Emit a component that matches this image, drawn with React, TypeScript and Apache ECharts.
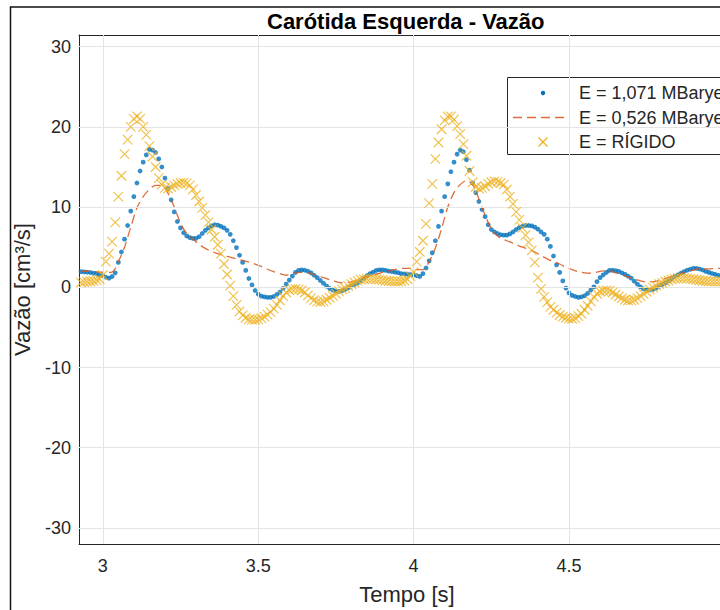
import React, { useEffect, useRef } from "react";
import * as echarts from "echarts";

// sampling grid (s)
const T0 = 2.93;
const DT_POINTS = 0.01;
const DT_LINE = 0.02;

// E = 1,071 MBarye (blue dots), t = 2.93 ... 5.03 step 0.01
const flowE1071 = [
  1.95, 1.92, 1.88, 1.84, 1.77, 1.68, 1.57, 1.45, 1.25, 1.14,
  1.35, 1.8, 3.1, 4.4, 6.0, 7.7, 9.5, 11.3, 13.0, 14.5,
  15.6, 16.5, 17.2, 17.1, 16.8, 16.0, 15.0, 13.6, 12.3, 10.9,
  9.4, 8.2, 7.4, 6.8, 6.4, 6.2, 6.1, 6.1, 6.3, 6.7,
  7.1, 7.4, 7.65, 7.8, 7.75, 7.6, 7.4, 7.1, 6.6, 5.8,
  4.95, 4.0, 3.1, 2.1, 1.1, 0.3, -0.4, -0.85, -1.1, -1.2,
  -1.25, -1.25, -1.15, -0.9, -0.6, -0.15, 0.4, 0.9, 1.4, 1.85,
  2.1, 2.17, 2.12, 2.0, 1.8, 1.5, 1.2, 0.85, 0.5, 0.15,
  -0.15, -0.35, -0.48, -0.5, -0.43, -0.25, -0.05, 0.15, 0.35, 0.55,
  0.8, 1.15, 1.45, 1.7, 1.9, 2.1, 2.17, 2.17, 2.1, 2.02,
  1.97, 1.88, 1.82, 1.7, 1.66, 1.63, 1.58, 1.55, 1.45, 1.35,
  1.7, 2.4, 3.3, 4.3, 5.8, 7.6, 9.5, 11.3, 12.9, 14.4,
  15.6, 16.6, 17.1, 16.9, 15.9, 14.6, 13.0, 11.8, 10.7, 9.7,
  8.8, 7.8, 7.2, 6.9, 6.7, 6.55, 6.5, 6.5, 6.65, 6.9,
  7.2, 7.45, 7.6, 7.7, 7.7, 7.65, 7.5, 7.25, 6.9, 6.6,
  6.0, 5.1, 3.9, 2.8, 1.85, 0.8, -0.1, -0.7, -1.0, -1.15,
  -1.25, -1.2, -1.05, -0.75, -0.35, 0.05, 0.7, 1.2, 1.55, 1.85,
  2.1, 2.12, 2.08, 1.98, 1.8, 1.62, 1.4, 1.14, 0.75, 0.4,
  0.05, -0.2, -0.3, -0.32, -0.25, -0.1, 0.12, 0.35, 0.55, 0.8,
  1.05, 1.35, 1.55, 1.75, 1.95, 2.12, 2.25, 2.35, 2.35, 2.28,
  2.15, 1.98, 1.85, 1.72, 1.62, 1.5, 1.38, 1.3, 1.25, 1.2,
  1.15,
];

// E = 0,526 MBarye (dashed line), t = 2.93 ... 5.03 step 0.02
const flowE0526 = [
  2.0, 2.0, 1.95, 1.9, 1.85, 1.9, 3.2, 5.0, 7.5, 9.9,
  11.3, 12.2, 12.7, 12.7, 11.7, 10.0, 8.0, 6.7, 6.0, 5.35,
  4.85, 4.45, 4.2, 3.95, 3.75, 3.55, 3.35, 3.15, 2.9, 2.6,
  2.25, 1.95, 1.7, 1.5, 1.75, 1.85, 1.85, 1.7, 1.45, 1.2,
  0.95, 0.7, 0.55, 0.6, 0.8, 1.05, 1.3, 1.55, 1.75, 1.95,
  2.15, 2.3, 2.37, 2.37, 2.2, 2.2, 3.2, 4.9, 7.3, 10.0,
  11.8, 12.8, 13.3, 12.8, 11.0, 9.0, 7.3, 6.4, 5.95, 5.65,
  5.3, 5.0, 4.75, 4.4, 3.95, 3.55, 3.2, 2.9, 2.5, 2.2,
  1.95, 1.8, 1.75, 1.9, 2.05, 2.05, 1.8, 1.6, 1.3, 1.05,
  0.8, 0.65, 0.7, 0.85, 1.1, 1.35, 1.55, 1.85, 2.05, 2.25,
  2.3, 2.3, 2.35, 2.35, 2.35, 2.35,
];

// E = RÍGIDO (x markers), t = 2.93 ... 5.03 step 0.01
const flowRigid = [
  0.6, 0.65, 0.7, 0.75, 0.8, 0.9, 1.0, 1.5, 3.2, 4.2,
  5.7, 8.1, 11.3, 13.9, 16.6, 18.4, 20.0, 21.0, 21.3, 21.0,
  20.0, 19.0, 17.6, 16.3, 15.0, 13.6, 12.8, 12.4, 12.3, 12.5,
  12.7, 12.9, 13.0, 13.05, 12.95, 12.7, 12.2, 11.5, 10.7, 9.9,
  9.0, 8.1, 7.2, 6.3, 5.3, 4.2, 2.9, 1.6, 0.2, -1.1,
  -2.2, -3.0, -3.5, -3.8, -4.0, -4.05, -4.05, -4.0, -3.85, -3.65,
  -3.4, -3.1, -2.65, -2.2, -1.65, -1.1, -0.65, -0.35, -0.22, -0.2,
  -0.25, -0.4, -0.65, -1.0, -1.35, -1.6, -1.78, -1.83, -1.75, -1.55,
  -1.3, -1.05, -0.8, -0.5, -0.25, -0.1, 0.15, 0.4, 0.6, 0.8,
  0.95, 1.0, 1.05, 1.05, 1.05, 1.0, 0.95, 0.9, 0.82, 0.78,
  0.74, 0.72, 0.72, 0.75, 0.85, 1.0, 1.4, 1.9, 3.2, 4.4,
  5.8, 7.9, 10.5, 12.9, 16.0, 18.05, 19.7, 20.8, 21.3, 21.3,
  20.9, 20.1, 19.1, 17.85, 16.4, 14.5, 13.1, 12.5, 12.3, 12.4,
  12.6, 12.9, 13.1, 13.2, 13.15, 13.0, 12.8, 12.2, 11.3, 10.4,
  9.4, 8.4, 7.4, 6.5, 5.6, 4.6, 3.1, 1.2, -0.2, -1.2,
  -1.85, -2.45, -2.8, -3.15, -3.45, -3.65, -3.8, -3.9, -3.92, -3.85,
  -3.6, -3.3, -2.8, -2.3, -1.75, -1.2, -0.8, -0.55, -0.43, -0.4,
  -0.45, -0.65, -0.9, -1.15, -1.35, -1.55, -1.65, -1.63, -1.55, -1.35,
  -1.1, -0.82, -0.55, -0.3, -0.05, 0.2, 0.4, 0.55, 0.72, 0.85,
  0.98, 1.08, 1.14, 1.15, 1.14, 1.1, 1.05, 1.0, 0.94, 0.88,
  0.82, 0.78, 0.74, 0.73, 0.72, 0.72, 0.73, 0.75, 0.8, 0.9,
  1.1,
];

const xTicks = [3, 3.5, 4, 4.5, 5];
const xTickLabels = [3, 3.5, 4, 4.5];
const yTicks = [-30, -20, -10, 0, 10, 20, 30];
const seriesNames = ["E = 1,071 MBarye", "E = 0,526 MBarye", "E = RÍGIDO"];
const chartTitle = "Carótida Esquerda - Vazão";
const xName = "Tempo [s]";
const yName = "Vazão [cm³/s]";

const X_MIN = 2.9235;
const X_MAX = 5.034;
const Y_MIN = -32;
const Y_MAX = 31.45;

const C_BLUE = "#0072BD";
const C_RED = "#D95319";
const C_YEL = "#EDB120";
const C_AX = "#262626";
const C_GRID = "#e4e4e4";
const FONT = "'Liberation Sans', Arial, Helvetica, sans-serif";

const CHART_W = 740;
const CHART_H = 610;

const toPairs = (vals: number[], step: number) =>
  vals.map((v, i) => [Math.round((T0 + i * step) * 1000) / 1000, v]);

const X_PATH = "path://M0 0L10 10M10 0L0 10";

export default function App() {
  const ref = useRef<HTMLDivElement>(null);

  useEffect(() => {
    if (!ref.current) return;
    const chart = echarts.init(ref.current, null, { renderer: "svg" });

    const axisCommon = {
      type: "value" as const,
      min: X_MIN,
      max: X_MAX,
      splitLine: { show: false },
      axisLine: { show: true, onZero: false, lineStyle: { color: C_AX, width: 1 } },
    };

    const legendX = 507.5;
    const legendY = 77.5;
    const rows = [93, 117.5, 142];

    chart.setOption({
      animation: false,
      backgroundColor: "#ffffff",
      textStyle: { fontFamily: FONT },
      title: {
        text: chartTitle,
        left: 262,
        top: 5,
        textStyle: { fontSize: 22, fontWeight: "bold", color: "#000", fontFamily: FONT },
      },
      grid: { left: 79, top: 35, right: CHART_W - 735, bottom: 62.3, containLabel: false },
      xAxis: [
        {
          ...axisCommon,
          position: "bottom",
          axisTick: {
            show: true,
            inside: true,
            length: 6,
            customValues: xTicks,
            lineStyle: { color: C_AX },
          },
          axisLabel: {
            show: true,
            customValues: xTickLabels,
            formatter: (v: number) => String(v),
            color: C_AX,
            fontSize: 18,
            margin: 13,
            fontFamily: FONT,
          },
          name: xName,
          nameLocation: "middle",
          nameGap: 39,
          nameTextStyle: { fontSize: 22, color: C_AX, fontFamily: FONT },
        },
        {
          ...axisCommon,
          position: "top",
          axisTick: {
            show: true,
            inside: true,
            length: 6,
            customValues: xTicks,
            lineStyle: { color: C_AX },
          },
          axisLabel: { show: false },
        },
      ],
      yAxis: {
        type: "value",
        min: Y_MIN,
        max: Y_MAX,
        splitLine: { show: false },
        axisLine: { show: true, onZero: false, lineStyle: { color: C_AX, width: 1 } },
        axisTick: {
          show: true,
          inside: true,
          length: 6,
          customValues: yTicks,
          lineStyle: { color: C_AX },
        },
        axisLabel: {
          show: true,
          customValues: yTicks,
          color: C_AX,
          fontSize: 18,
          margin: 8,
          fontFamily: FONT,
        },
        name: yName,
        nameLocation: "middle",
        nameRotate: 90,
        nameGap: 46,
        nameTextStyle: { fontSize: 22, color: C_AX, fontFamily: FONT },
      },
      series: [
        {
          name: "grid",
          type: "line",
          data: [[3, 0]],
          symbol: "none",
          lineStyle: { opacity: 0 },
          silent: true,
          z: 1,
          markLine: {
            silent: true,
            symbol: ["none", "none"],
            label: { show: false },
            lineStyle: { color: C_GRID, width: 1, type: "solid" },
            emphasis: { disabled: true },
            data: [
              ...xTicks.map((v) => ({ xAxis: v })),
              ...yTicks.map((v) => ({ yAxis: v })),
            ],
          },
        },
        {
          name: seriesNames[0],
          type: "scatter",
          data: toPairs(flowE1071, DT_POINTS),
          symbol: "circle",
          symbolSize: 4.8,
          itemStyle: { color: C_BLUE },
          z: 3,
        },
        {
          name: seriesNames[1],
          type: "line",
          data: toPairs(flowE0526, DT_LINE),
          symbol: "none",
          smooth: 0.3,
          lineStyle: { color: C_RED, width: 1.3, type: [9, 5], opacity: 0.85 },
          z: 4,
        },
        {
          name: seriesNames[2],
          type: "scatter",
          data: toPairs(flowRigid, DT_POINTS),
          symbol: X_PATH,
          symbolSize: 9.5,
          itemStyle: { color: "none", borderColor: C_YEL, borderWidth: 1.2 },
          z: 5,
        },
      ],
      graphic: [
        {
          type: "rect",
          shape: { x: 10.5, y: 7, width: 900, height: 800 },
          style: { fill: "none", stroke: "#111", lineWidth: 1.5 },
          silent: true,
          z: 100,
        },
        {
          type: "group",
          z: 50,
          children: [
            {
              type: "rect",
              shape: { x: legendX, y: legendY, width: 300, height: 77 },
              style: { fill: "#fff", stroke: C_AX, lineWidth: 1 },
            },
            {
              type: "circle",
              shape: { cx: 543, cy: rows[0], r: 2.2 },
              style: { fill: C_BLUE },
            },
            {
              type: "line",
              shape: { x1: 513, y1: rows[1], x2: 568, y2: rows[1] },
              style: { stroke: C_RED, lineWidth: 1.3, lineDash: [9, 5], opacity: 0.85 },
            },
            {
              type: "line",
              shape: { x1: 538.5, y1: rows[2] - 4.5, x2: 547.5, y2: rows[2] + 4.5 },
              style: { stroke: C_YEL, lineWidth: 1.2 },
            },
            {
              type: "line",
              shape: { x1: 547.5, y1: rows[2] - 4.5, x2: 538.5, y2: rows[2] + 4.5 },
              style: { stroke: C_YEL, lineWidth: 1.2 },
            },
            ...seriesNames.map((s, i) => ({
              type: "text",
              x: 579,
              y: rows[i],
              style: {
                text: s,
                fill: C_AX,
                font: `18px ${FONT}`,
                verticalAlign: "middle",
                align: "left",
              },
            })),
          ],
        },
      ],
    });

    return () => chart.dispose();
  }, []);

  return (
    <div
      style={{
        position: "absolute",
        left: 0,
        top: 0,
        width: 720,
        height: 610,
        overflow: "hidden",
      }}
    >
      <div ref={ref} style={{ width: CHART_W, height: CHART_H }} />
    </div>
  );
}
